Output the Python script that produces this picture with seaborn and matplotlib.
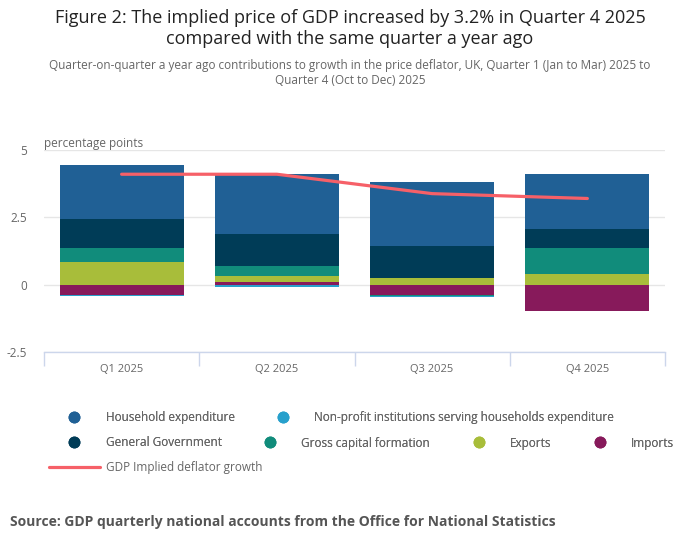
import numpy as np
import pandas as pd
import seaborn as sns
import matplotlib.pyplot as plt
from matplotlib.lines import Line2D

quarters = ["Q1 2025", "Q2 2025", "Q3 2025", "Q4 2025"]

# contributions, percentage points
household = [1.99, 2.21, 2.36, 2.03]
npish = [-0.03, -0.08, -0.04, 0.0]
government = [1.10, 1.18, 1.18, 0.70]
gcf = [0.52, 0.37, -0.02, 0.96]
exports = [0.83, 0.25, 0.26, 0.41]
imports = [-0.39, 0.09, -0.39, -0.96]
deflator = [4.1, 4.1, 3.38, 3.2]

series = [
    ("Household expenditure", household, "#206095"),
    ("Non-profit institutions serving households expenditure", npish, "#27a0cc"),
    ("General Government", government, "#003c57"),
    ("Gross capital formation", gcf, "#118c7b"),
    ("Exports", exports, "#a8bd3a"),
    ("Imports", imports, "#871a5b"),
]

sns.set_style("white")
plt.rcParams["font.family"] = ["Open Sans", "DejaVu Sans"]

fig = plt.figure(figsize=(7, 5.49), dpi=100)
ax = fig.add_axes([44 / 700, 1 - 352 / 549, 621 / 700, 202 / 549])

# stack from zero outwards, last series closest to zero (highcharts style)
pos_base = np.zeros(len(quarters))
neg_base = np.zeros(len(quarters))
for name, vals, col in reversed(series):
    vals = np.array(vals)
    bottom = np.where(vals >= 0, pos_base, neg_base)
    df = pd.DataFrame({"quarter": quarters, "value": vals})
    sns.barplot(data=df, x="quarter", y="value", color=col, saturation=1,
                errorbar=None, width=0.8, bottom=bottom, linewidth=0, ax=ax)
    pos_base = pos_base + np.clip(vals, 0, None)
    neg_base = neg_base + np.clip(vals, None, 0)

line_df = pd.DataFrame({"quarter": quarters, "value": deflator})
sns.pointplot(data=line_df, x="quarter", y="value", color="#f66068",
              markers="", linewidth=2.3, errorbar=None, ax=ax)

ax.set_xlim(-0.5, 3.5)
ax.set_ylim(-2.5, 5)
ax.set_yticks([-2.5, 0, 2.5, 5])
ax.set_yticklabels(["-2.5", "0", "2.5", "5"])
ax.set_xlabel("")
ax.set_ylabel("")
ax.yaxis.grid(True, color="#e6e6e6", linewidth=1)
ax.set_axisbelow(True)
for s in ["left", "right", "top"]:
    ax.spines[s].set_visible(False)
ax.spines["bottom"].set_color("#ccd6eb")
ax.spines["bottom"].set_linewidth(1)
ax.tick_params(axis="y", length=0, pad=12, labelsize=8.5, labelcolor="#666666")
ax.tick_params(axis="x", which="major", length=0, pad=9, labelsize=8, labelcolor="#666666")
ax.set_xticks(np.arange(-0.5, 4, 1), minor=True)
ax.tick_params(axis="x", which="minor", bottom=True, length=10, color="#ccd6eb", width=1)

ax.text(0, 1.0, "percentage points", transform=ax.transAxes, fontsize=8.5,
        color="#666666", va="bottom", ha="left")

fig.text(0.5, 1 - 18 / 549, "Figure 2: The implied price of GDP increased by 3.2% in Quarter 4 2025",
         ha="center", va="center", fontsize=13, color="#222222")
fig.text(0.5, 1 - 39 / 549, "compared with the same quarter a year ago",
         ha="center", va="center", fontsize=13, color="#222222")
fig.text(0.5, 1 - 65 / 549,
         "Quarter-on-quarter a year ago contributions to growth in the price deflator, UK, Quarter 1 (Jan to Mar) 2025 to",
         ha="center", va="center", fontsize=8.5, color="#666666")
fig.text(0.5, 1 - 80 / 549, "Quarter 4 (Oct to Dec) 2025",
         ha="center", va="center", fontsize=8.5, color="#666666")

fig.text(10 / 700, 1 - 522 / 549,
         "Source: GDP quarterly national accounts from the Office for National Statistics",
         ha="left", va="center", fontsize=10, fontweight="bold", color="#555555")

# legend, three rows
def dot(c):
    return Line2D([], [], marker="o", linestyle="", markersize=7.5,
                  markerfacecolor=c, markeredgecolor=c)

rows = [series[:2], series[2:]]
row_y = [418, 443]
for items, y in zip(rows, row_y):
    leg = fig.legend([dot(c) for _, _, c in items], [n for n, _, _ in items],
                     loc="center left", bbox_to_anchor=(49 / 700, 1 - y / 549),
                     ncol=len(items), frameon=False, fontsize=8.5,
                     handlelength=4.3, handletextpad=0.5, columnspacing=1.95,
                     borderpad=0, borderaxespad=0, labelcolor="#666666")
    fig.add_artist(leg)

line_leg = fig.legend([Line2D([], [], color="#f66068", linewidth=2.3)],
                      ["GDP Implied deflator growth"],
                      loc="center left", bbox_to_anchor=(49 / 700, 1 - 468 / 549),
                      frameon=False, fontsize=8.5, handlelength=4.3,
                      handletextpad=0.5, borderpad=0, borderaxespad=0,
                      labelcolor="#666666")

fig.savefig("out.png", dpi=100)
